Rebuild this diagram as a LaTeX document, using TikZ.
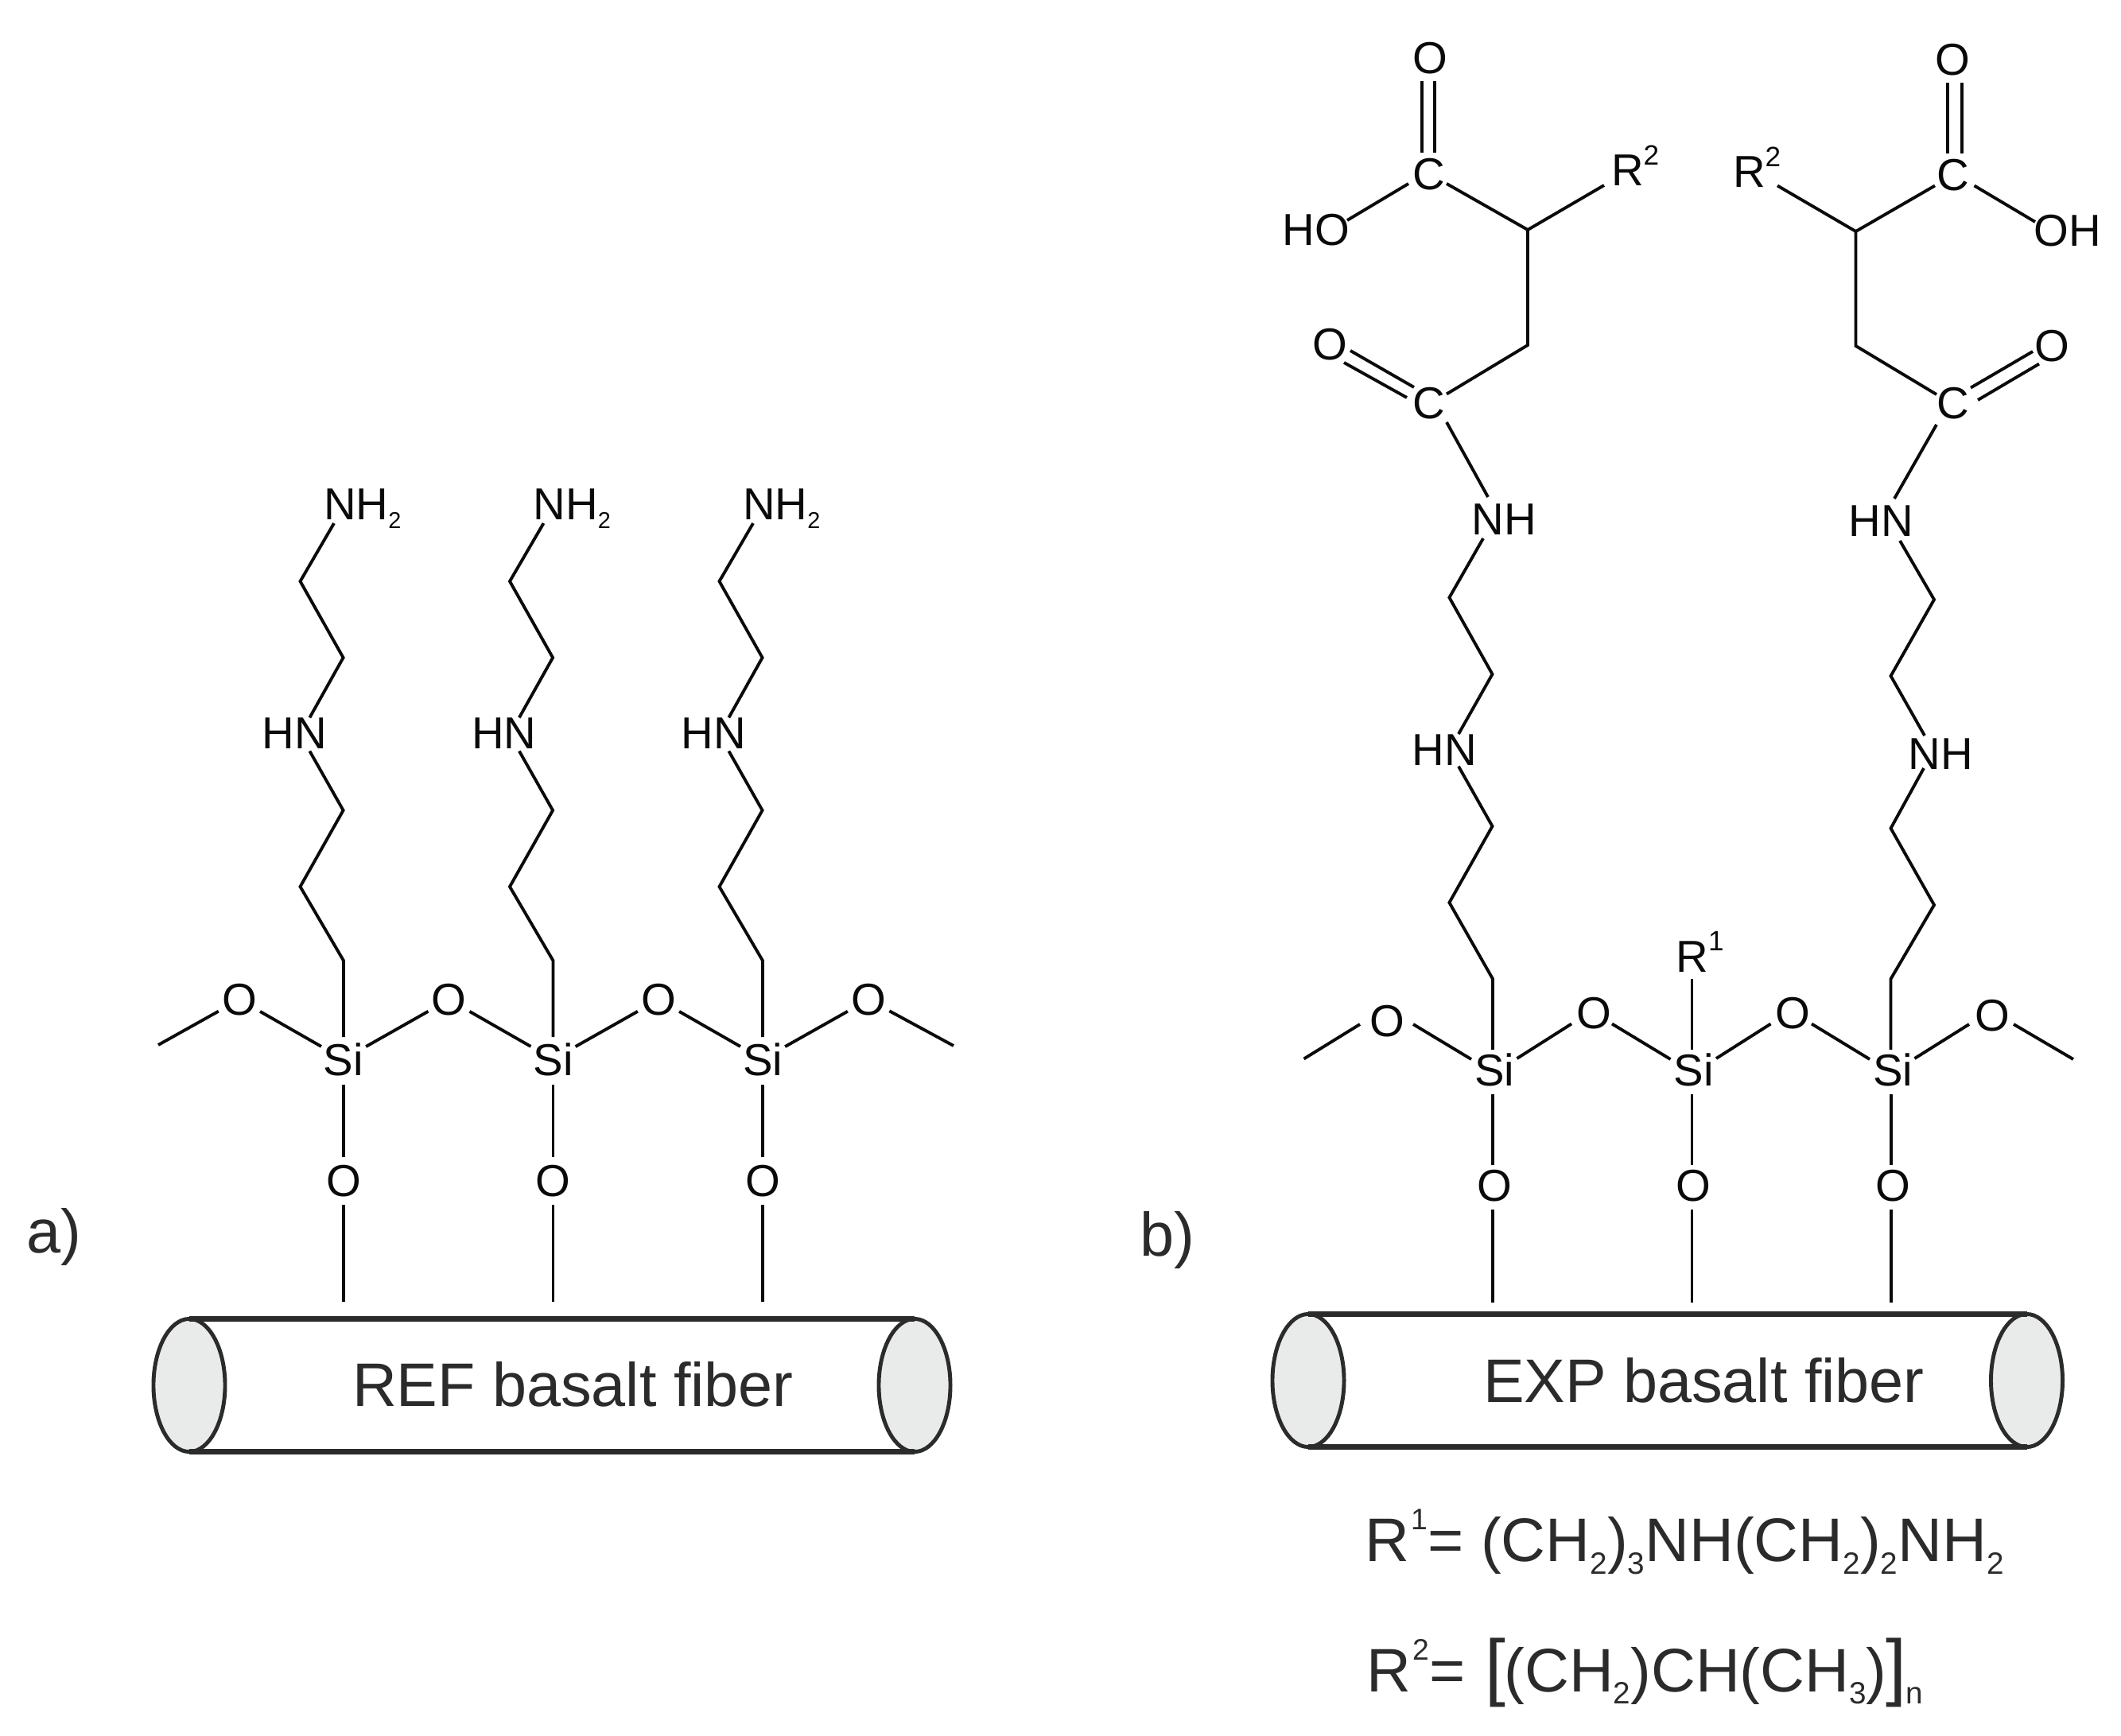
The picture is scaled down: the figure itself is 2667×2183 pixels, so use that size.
\documentclass[tikz,border=0pt]{standalone}
\usepackage{fontspec}
\setmainfont{Liberation Sans}
\usetikzlibrary{shapes.geometric}
\newcommand{\chemsub}[1]{\raisebox{-3.1pt}{\fontsize{8.2}{8.2}\selectfont #1}}
\newcommand{\chemsup}[1]{\raisebox{7.6pt}{\fontsize{10}{10}\selectfont #1}}
\newcommand{\bigsub}[1]{\raisebox{-4.4pt}{\fontsize{11}{11}\selectfont #1}}
\newcommand{\bigsup}[1]{\kern0.6pt\raisebox{11.3pt}{\fontsize{10.6}{10.6}\selectfont #1}\kern0.2pt}
\definecolor{bondc}{HTML}{0A0A0A}
\definecolor{txtc}{HTML}{2B2B2B}
\definecolor{endc}{HTML}{E9EBEA}
\tikzset{
  bond/.style={draw=bondc,line width=1.1pt,line join=miter},
  atom/.style={circle,inner sep=0pt,outer sep=0pt,minimum size=0.6cm,text=bondc,font=\fontsize{16}{16}\selectfont},
  lab/.style={rectangle,inner sep=0pt,outer sep=0pt,text=bondc,font=\fontsize{16}{16}\selectfont},
  bigtext/.style={rectangle,inner sep=0pt,outer sep=0pt,anchor=base west,text=txtc,font=\fontsize{22}{22}\selectfont},
  fiberend/.style={ellipse,draw=txtc,fill=endc,line width=1.4pt,inner sep=0pt,outer sep=0pt,minimum width=0.9cm,minimum height=1.67cm},
  fiberline/.style={draw=txtc,line width=1.9pt},
}
\begin{document}
\begin{tikzpicture}[x=0.01cm,y=-0.01cm]
\useasboundingbox (0,0) rectangle (2667,2183);
% ---------- panel a ----------
\foreach \i/\dx in {1/0,2/263.5,3/527}{
\begin{scope}[xshift=\dx*0.01cm]
  \node[atom] (aSi\i) at (432,1332) {Si};
  \node[atom] (aOb\i) at (432,1485) {O};
  \node[atom] (aOl\i) at (301,1257) {O};
  \node[lab] (aHN\i) at (370.4,922) {HN};
  \node[lab,anchor=base west] (aNH\i) at (407,654) {NH\chemsub{2}};
  \coordinate (aE\i) at (432,1637);
  \coordinate (ak1\i) at (377.5,731);
  \coordinate (ak2\i) at (431.6,827);
  \coordinate (ak3\i) at (431.6,1019);
  \coordinate (ak4\i) at (377.5,1115);
  \coordinate (ak5\i) at (432,1208);
  \draw[bond] ([shift={(13,4)}]aNH\i.base west) -- (ak1\i) -- (ak2\i) -- ([shift={(19,-19.6)}]aHN\i.center);
  \draw[bond] ([shift={(19,22.5)}]aHN\i.center) -- (ak3\i) -- (ak4\i) -- (ak5\i) -- ([shift={(0,-28)}]aSi\i.center);
  \draw[bond] (aSi\i) -- (aOb\i);
  \draw[bond] (aOb\i) -- (aE\i);
  \draw[bond] (aOl\i) -- (aSi\i);
\end{scope}
}
\node[atom] (aOr) at (1092,1257) {O};
\coordinate (aLend) at (199,1314);
\coordinate (aRend) at (1199,1315);
\draw[bond] (aLend) -- (aOl1);
\draw[bond] (aSi1) -- (aOl2);
\draw[bond] (aSi2) -- (aOl3);
\draw[bond] (aSi3) -- (aOr);
\draw[bond] (aOr) -- (aRend);
\node[fiberend] (aFl) at (238,1742) {};
\node[fiberend] (aFr) at (1150,1742) {};
\draw[fiberline] (aFl.north) -- (aFr.north);
\draw[fiberline] (aFl.south) -- (aFr.south);
\node[bigtext] (aFt) at (443,1768) {REF basalt fiber};
\node[bigtext] (aLab) at (33,1575) {a)};
% ---------- panel b: siloxane ----------
\node[bigtext] (bLab) at (1433,1579) {b)};
\foreach \i/\sx in {1/1879,2/2129.5,3/2380}{
  \node[lab] (bSi\i) at (\sx,1345) {Si};
  \node[lab] (bOb\i) at (\sx,1491.5) {O};
  \coordinate (bE\i) at ([shift={(-2,293)}]bSi\i.center);
  \draw[bond] ([shift={(-2,31)}]bSi\i.center) -- ([shift={(-2,-26.5)}]bOb\i.center);
  \draw[bond] ([shift={(-2,29.5)}]bOb\i.center) -- (bE\i);
}
\node[lab] (bO1) at (1744,1284) {O};
\node[lab] (bO2) at (2004,1274) {O};
\node[lab] (bO3) at (2254,1274) {O};
\node[lab] (bO4) at (2505,1277) {O};
\coordinate (bLend) at (1639.5,1331.5);
\coordinate (bRend) at (2607,1332);
\draw[bond] (bLend) -- ([shift={(-34,4)}]bO1.center);
\draw[bond] ([shift={(33,4)}]bO1.center) -- ([shift={(-29,-13)}]bSi1.center);
\draw[bond] ([shift={(28.5,-14)}]bSi1.center) -- ([shift={(-28,13.5)}]bO2.center);
\draw[bond] ([shift={(23,13.5)}]bO2.center) -- ([shift={(-29,-13)}]bSi2.center);
\draw[bond] ([shift={(28.5,-14)}]bSi2.center) -- ([shift={(-27.5,13.5)}]bO3.center);
\draw[bond] ([shift={(24,13.5)}]bO3.center) -- ([shift={(-29,-13)}]bSi3.center);
\draw[bond] ([shift={(27.5,-14)}]bSi3.center) -- ([shift={(-29,11)}]bO4.center);
\draw[bond] ([shift={(27,11)}]bO4.center) -- (bRend);
\node[lab,anchor=base west] (bR1) at (2107.5,1222) {R\chemsup{1}};
\draw[bond] ([shift={(20,9)}]bR1.base west) -- ([shift={(-2,-25)}]bSi2.center);
% ---------- panel b: left arm ----------
\node[lab] (lO1) at (1798,73) {O};
\node[lab] (lC1) at (1797,219) {C};
\node[lab] (lHO) at (1655,289) {HO};
\node[lab,anchor=base west] (lR) at (2026,234) {R\chemsup{2}};
\node[lab] (lC2) at (1797,507) {C};
\node[lab] (lO2) at (1672,433) {O};
\node[lab] (lNH) at (1891,653) {NH};
\node[lab] (lHN) at (1816,943) {HN};
\coordinate (lk1) at (1921,289);
\coordinate (lk2) at (1921,434);
\coordinate (lk3) at (1822.4,751.4);
\coordinate (lk4) at (1876.5,847.8);
\coordinate (lk5) at (1876.5,1039);
\coordinate (lk6) at (1822.4,1135);
\coordinate (lk7) at (1877,1231);
\draw[bond] ([shift={(-10,29)}]lO1.center) -- ([shift={(-9,-27)}]lC1.center);
\draw[bond] ([shift={(6,29)}]lO1.center) -- ([shift={(7,-27)}]lC1.center);
\draw[bond] ([shift={(39,-12)}]lHO.center) -- ([shift={(-26,12)}]lC1.center);
\draw[bond] ([shift={(22,12)}]lC1.center) -- (lk1) -- ([shift={(-9,-1)}]lR.base west);
\draw[bond] (lk1) -- (lk2) -- ([shift={(22,-11.5)}]lC2.center);
\draw[bond] ([shift={(-19,-20)}]lC2.center) -- ([shift={(26,8)}]lO2.center);
\draw[bond] ([shift={(-28,-7)}]lC2.center) -- ([shift={(18,23)}]lO2.center);
\draw[bond] ([shift={(22,24)}]lC2.center) -- ([shift={(-20,-28)}]lNH.center);
\draw[bond] ([shift={(-26,24)}]lNH.center) -- (lk3) -- (lk4) -- ([shift={(18,-20)}]lHN.center);
\draw[bond] ([shift={(18,20.7)}]lHN.center) -- (lk5) -- (lk6) -- (lk7) -- ([shift={(-2,-25)}]bSi1.center);
% ---------- panel b: right arm ----------
\node[lab] (rO1) at (2455.5,75) {O};
\node[lab] (rC1) at (2455.5,220) {C};
\node[lab] (rOH) at (2600,290) {OH};
\node[lab,anchor=base west] (rR) at (2179,236) {R\chemsup{2}};
\node[lab] (rC2) at (2455.5,507.6) {C};
\node[lab] (rO2) at (2580,435) {O};
\node[lab] (rHN) at (2365,655.5) {HN};
\node[lab] (rNH) at (2440,948) {NH};
\coordinate (rk1) at (2333.5,291);
\coordinate (rk2) at (2333.5,435);
\coordinate (rk3) at (2432,754);
\coordinate (rk4) at (2377.5,850);
\coordinate (rk5) at (2377.5,1041.6);
\coordinate (rk6) at (2432,1138);
\coordinate (rk7) at (2377.5,1231);
\draw[bond] ([shift={(-6.5,29)}]rO1.center) -- ([shift={(-6.5,-27)}]rC1.center);
\draw[bond] ([shift={(11.5,29)}]rO1.center) -- ([shift={(11.5,-27)}]rC1.center);
\draw[bond] ([shift={(56,-2.5)}]rR.base west) -- (rk1) -- ([shift={(-22.5,13.5)}]rC1.center);
\draw[bond] ([shift={(27,13.5)}]rC1.center) -- ([shift={(-41,-11)}]rOH.center);
\draw[bond] (rk1) -- (rk2) -- ([shift={(-20.5,-11.6)}]rC2.center);
\draw[bond] ([shift={(22.5,-20)}]rC2.center) -- ([shift={(-24,7)}]rO2.center);
\draw[bond] ([shift={(31.5,-4.6)}]rC2.center) -- ([shift={(-16,22.6)}]rO2.center);
\draw[bond] ([shift={(-20.5,26.4)}]rC2.center) -- ([shift={(17,-28.5)}]rHN.center);
\draw[bond] ([shift={(24,24.5)}]rHN.center) -- (rk3) -- (rk4) -- ([shift={(-20,-23)}]rNH.center);
\draw[bond] ([shift={(-21,18)}]rNH.center) -- (rk5) -- (rk6) -- (rk7) -- ([shift={(-2.5,-25)}]bSi3.center);
% ---------- fibre b and formulae ----------
\node[fiberend] (bFl) at (1645,1736) {};
\node[fiberend] (bFr) at (2548.5,1736) {};
\draw[fiberline] (bFl.north) -- (bFr.north);
\draw[fiberline] (bFl.south) -- (bFr.south);
\node[bigtext] (bFt) at (1865,1763) {EXP basalt fiber};
\node[bigtext] (f1) at (1716,1963.7) {R\bigsup{1}= (CH\bigsub{2})\bigsub{3}NH(CH\bigsub{2})\bigsub{2}NH\bigsub{2}};
\node[bigtext] (f2) at (1718,2127.5) {R\bigsup{2}= \kern1pt{\fontsize{26.5}{26.5}\selectfont [}\kern-0.6pt(CH\bigsub{2})CH(CH\bigsub{3})\kern-0.4pt{\fontsize{26.5}{26.5}\selectfont ]}\kern-0.3pt\bigsub{n}};
\end{tikzpicture}
\end{document}
